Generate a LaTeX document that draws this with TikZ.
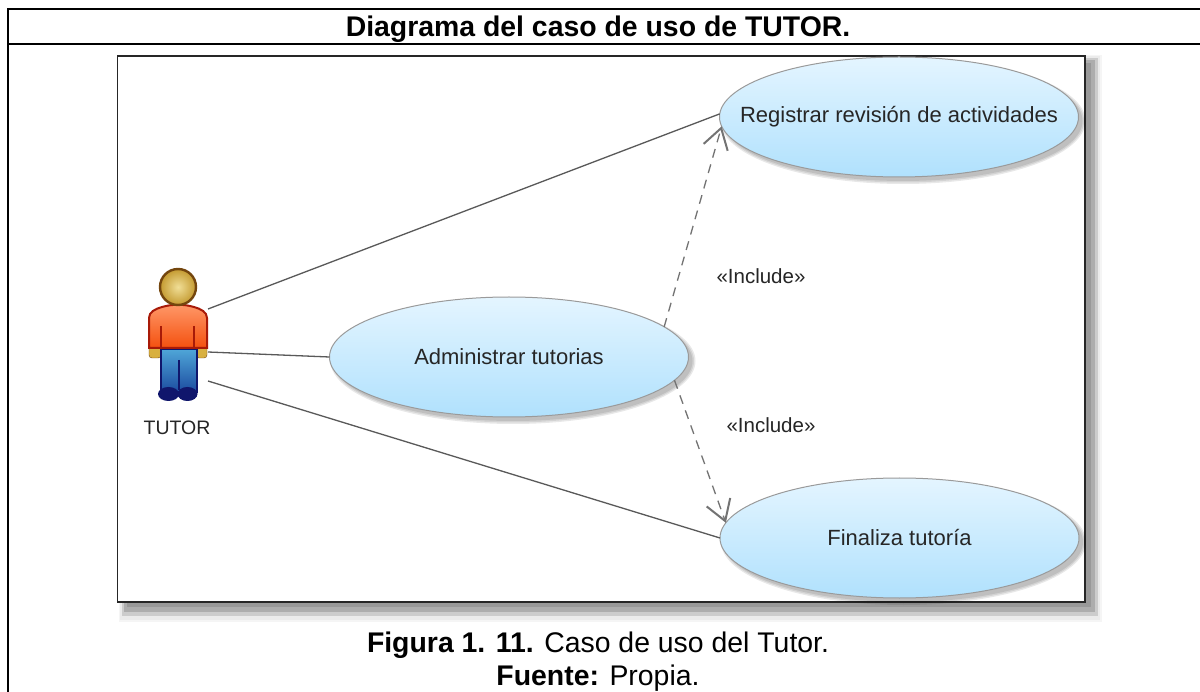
\documentclass[tikz,border=0pt]{standalone}
\usepackage{fontspec}
\setmainfont{Liberation Sans}
\usetikzlibrary{shapes.geometric,arrows.meta}
\definecolor{ucedge}{HTML}{9A9A9A}
\definecolor{uctop}{HTML}{E4F5FF}
\definecolor{ucbot}{HTML}{B0E1FD}
\definecolor{headin}{HTML}{F0DE96}
\definecolor{headout}{HTML}{C49A30}
\definecolor{headedge}{HTML}{74460E}
\definecolor{bodytop}{HTML}{FF9868}
\definecolor{bodybot}{HTML}{F4500F}
\definecolor{bodyedge}{HTML}{A81A08}
\definecolor{legtop}{HTML}{4FA6D8}
\definecolor{legbot}{HTML}{1C4CA0}
\definecolor{navy}{HTML}{10166C}
\definecolor{handfill}{HTML}{D8B040}
\tikzset{
  frameline/.style={line width=2pt,black},
  usecase/.style={ellipse,draw=ucedge,line width=1pt,top color=uctop,bottom color=ucbot,
    minimum width=359pt,minimum height=120pt,inner sep=0pt,outer sep=0pt,text=black!85,
    font=\fontsize{22}{26}\selectfont},
  ucshadow/.style={fill=black,opacity=0.09},
  assoc/.style={line width=1.3pt,black!65},
  incl/.style={line width=1.3pt,black!55,dash pattern=on 9pt off 7pt,
    -{Straight Barb[length=20pt,width=25pt,line width=2pt]}},
  lbl/.style={text=black!85,inner sep=0pt,font=\fontsize{20.5}{24}\selectfont},
  actlbl/.style={text=black!85,inner sep=0pt,font=\fontsize{19.5}{24}\selectfont},
  head/.style={inner sep=0pt,anchor=base,font=\fontsize{28.4}{33}\selectfont\bfseries},
  capt/.style={inner sep=0pt,anchor=base,font=\fontsize{28.4}{33}\selectfont},
}
\begin{document}
\begin{tikzpicture}[x=1pt,y=-1pt]
\useasboundingbox (0,0) rectangle (1200,692);
\fill[white] (0,0) rectangle (1200,692);
% table frame
\draw[frameline] (1200,9) -- (8,9) -- (8,692);
\draw[frameline] (8,44) -- (1200,44);
\node[head] (title) at (598,37) {Diagrama del caso de uso de TUTOR.};
% diagram panel shadow
\fill[black!4]  (119,55) rectangle (1102,622);
\fill[black!8]  (120,56) rectangle (1100,620);
\fill[black!20] (122,58) rectangle (1098,616);
\fill[black!32] (124,60) rectangle (1095,612);
\fill[black!40] (127,63) rectangle (1091,607);
\draw[line width=1.2pt,draw=black!85,fill=white] (117.5,56) rectangle (1085,602);
% use case shadows
\foreach \cx/\cy in {899/117,899.5/538,509/357}{
  \foreach \r in {0,1.5,3}{
    \fill[ucshadow] (\cx+4,\cy+4) ellipse [x radius=179.5+\r,y radius=60+\r];
  }
}
% use cases
\node[usecase] (reg) at (899,117) {\makebox[0pt]{Registrar revisión de actividades}};
\node[usecase] (fin) at (899.5,538) {\makebox[0pt]{Finaliza tutoría}};
\node[usecase] (adm) at (509,357) {\makebox[0pt]{Administrar tutorias}};
% actor
\fill[handfill,draw=headedge,rounded corners=3pt] (149,345) rectangle (161,358);
\fill[handfill,draw=headedge,rounded corners=3pt] (196,345) rectangle (207,358);
\shade[top color=legtop,bottom color=legbot,draw=navy,line width=2pt]
  (160.5,349) -- (196.5,349) -- (196.5,392) -- (160.5,392) -- cycle;
\draw[navy,line width=2pt] (178.5,360) -- (178.5,390);
\fill[navy] (168.5,394) ellipse [x radius=10.5,y radius=7];
\fill[navy] (187.5,394) ellipse [x radius=10,y radius=7];
\shade[top color=bodytop,bottom color=bodybot,draw=bodyedge,line width=2pt]
  (149,348) -- (149,318) .. controls (149,312) and (155,309) .. (162,307)
  .. controls (172,304) and (184,304) .. (194,307)
  .. controls (201,309) and (207,312) .. (207,318) -- (207,348) -- cycle;
\draw[bodyedge,line width=2.4pt] (161,326) -- (161,348);
\draw[bodyedge,line width=2.4pt] (194,326) -- (194,348);
\shade[inner color=headin,outer color=headout,draw=headedge,line width=2.4pt]
  (178,287) circle [radius=18];
\node[actlbl] (tutor) at (177,428) {TUTOR};
% actor connection points
\coordinate (actA) at (208,309);
\coordinate (actB) at (208,352);
\coordinate (actC) at (208,381);
% associations
\draw[assoc] (actA) -- (reg.179);
\draw[assoc] (actB) -- (adm.180);
\draw[assoc] (actC) -- (fin.180);
% includes
\draw[incl] (adm.11) -- (reg.183);
\draw[incl] (adm.-8) -- (fin.175);
\node[lbl] (inc1) at (761,276) {«Include»};
\node[lbl] (inc2) at (771,425) {«Include»};
% caption
\node[capt] (cap) at (598,652) {\textbf{Figura 1. 11.} Caso de uso del Tutor.};
\node[capt] (src) at (598,685) {\textbf{Fuente:} Propia.};
\end{tikzpicture}
\end{document}
